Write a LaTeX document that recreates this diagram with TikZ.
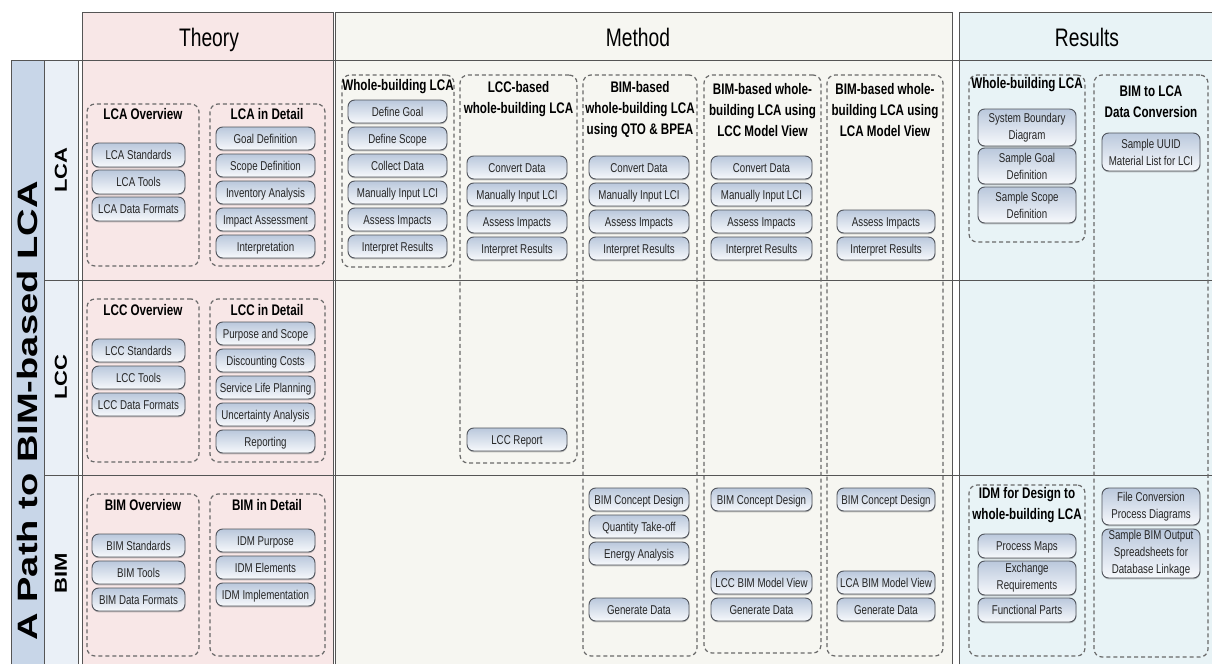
\documentclass[tikz,border=0pt]{standalone}
\usepackage{fontspec}
\setmainfont{Liberation Sans}[FakeStretch=0.76]
\newfontfamily\widefont{Liberation Sans}[FakeStretch=1.27]
\newfontfamily\widerfont{Liberation Sans}[FakeStretch=1.36]
\usetikzlibrary{shadows}

\definecolor{theorybg}{RGB}{248,231,231}
\definecolor{methodbg}{RGB}{246,246,241}
\definecolor{resultbg}{RGB}{232,243,246}
\definecolor{colA}{RGB}{200,214,232}
\definecolor{colB}{RGB}{234,240,247}
\definecolor{gridline}{RGB}{85,85,85}
\definecolor{groupline}{RGB}{105,105,105}
\definecolor{boxline}{RGB}{80,84,92}
\definecolor{boxtop}{RGB}{186,200,220}
\definecolor{boxmid}{RGB}{222,229,239}
\definecolor{boxbot}{RGB}{247,249,252}

\tikzset{
  region/.style={draw=gridline, line width=0.6pt},
  itembox/.style={draw=boxline, line width=0.7pt, rounded corners=5pt,
    top color=boxtop, middle color=boxmid, bottom color=boxbot,
    inner sep=0pt, align=center, text=black!85,
    font=\fontsize{9.6}{12.75}\selectfont,
    drop shadow={shadow xshift=0.2pt, shadow yshift=-1pt, opacity=0.45}},
  itemone/.style={itembox, text height=0.72em, text depth=0pt},
  groupbox/.style={draw=groupline, line width=0.9pt,
    dash pattern=on 3pt off 2.2pt, rounded corners=6pt, inner sep=0pt},
  grouptitle/.style={font=\bfseries\fontsize{11.5}{15.75}\selectfont,
    align=center, inner sep=0pt},
  colhead/.style={font=\fontsize{19}{22}\selectfont, anchor=base, inner sep=0pt},
  rowhead/.style={font=\widefont\bfseries\fontsize{13}{15}\selectfont,
    rotate=90, inner sep=0pt},
}

% item box: name, x1, y1, x2, y2, text (coordinates in pixel units)
\newcommand\bx[6]{\node[itemone, minimum width={(#4-#2)*0.75pt},
  minimum height={(#5-#3)*0.75pt}] (#1) at ({(#2+#4)/2},{(#3+#5)/2}) {#6};}
% item box with several lines of text
\newcommand\bxm[6]{\node[itembox, minimum width={(#4-#2)*0.75pt},
  minimum height={(#5-#3)*0.75pt}] (#1) at ({(#2+#4)/2},{(#3+#5)/2}) {#6};}
% dashed group frame: name, x1, y1, x2, y2
\newcommand\grp[5]{\node[groupbox, minimum width={(#4-#2)*0.75pt},
  minimum height={(#5-#3)*0.75pt}] (#1) at ({(#2+#4)/2},{(#3+#5)/2}) {};}

\begin{document}
\begin{tikzpicture}[x=0.75pt, y=-0.75pt]
\useasboundingbox (0,0) rectangle (1212,664);

% ---- column and row backgrounds
\fill[colA] (11,60) rectangle (44,664);
\fill[colB] (44,60) rectangle (78,664);
\fill[theorybg] (82,12) rectangle (333,664);
\fill[methodbg] (335,12) rectangle (952,664);
\fill[resultbg] (959,12) rectangle (1212,664);

\draw[region] (11,664) -- (11,60) -- (78,60) -- (78,664);
\draw[region] (44,60) -- (44,664);
\draw[region] (82,664) -- (82,12) -- (333,12) -- (333,664);
\draw[region] (335,664) -- (335,12) -- (952,12) -- (952,664);
\draw[region] (959,664) -- (959,12) -- (1212,12);
\draw[region] (11,60) -- (1212,60);
\draw[region] (44,280) -- (1212,280);
\draw[region] (44,475) -- (1212,475);

% ---- headings
\node[colhead] (hTheory) at (209,46) {Theory};
\node[colhead] (hMethod) at (638,46) {Method};
\node[colhead] (hResults) at (1087,46) {Results};

\node[rowhead, font=\widerfont\bfseries\fontsize{21}{24}\selectfont] (hPath) at (27,411) {A Path to BIM-based LCA};
\node[rowhead] (hLCA) at (61,170) {LCA};
\node[rowhead] (hLCC) at (61,377) {LCC};
\node[rowhead] (hBIM) at (61,573) {BIM};

% ---- Theory
\grp{gLcaOv}{87}{104}{199}{266}
\node[grouptitle] (tLcaOv) at (143,114) {LCA Overview};
\bx{a1}{92}{143}{185}{167}{LCA Standards}
\bx{a2}{92}{170}{185}{194}{LCA Tools}
\bx{a3}{92}{197}{185}{221}{LCA Data Formats}

\grp{gLcaDet}{210}{104}{325}{266}
\node[grouptitle] (tLcaDet) at (267,114) {LCA in Detail};
\bx{b1}{216}{127}{315}{150}{Goal Definition}
\bx{b2}{216}{154}{315}{177}{Scope Definition}
\bx{b3}{216}{181}{315}{204}{Inventory Analysis}
\bx{b4}{216}{208}{315}{231}{Impact Assessment}
\bx{b5}{216}{235}{315}{258}{Interpretation}

\grp{gLccOv}{87}{299}{199}{462}
\node[grouptitle] (tLccOv) at (143,310) {LCC Overview};
\bx{c1}{92}{339}{185}{362}{LCC Standards}
\bx{c2}{92}{366}{185}{389}{LCC Tools}
\bx{c3}{92}{393}{185}{416}{LCC Data Formats}

\grp{gLccDet}{210}{299}{325}{462}
\node[grouptitle] (tLccDet) at (267,310) {LCC in Detail};
\bx{d1}{216}{322}{315}{345}{Purpose and Scope}
\bx{d2}{216}{349}{315}{372}{Discounting Costs}
\bx{d3}{216}{376}{315}{399}{Service Life Planning}
\bx{d4}{216}{403}{315}{426}{Uncertainty Analysis}
\bx{d5}{216}{430}{315}{453}{Reporting}

\grp{gBimOv}{87}{494}{199}{656}
\node[grouptitle] (tBimOv) at (143,505) {BIM Overview};
\bx{e1}{92}{534}{185}{557}{BIM Standards}
\bx{e2}{92}{561}{185}{584}{BIM Tools}
\bx{e3}{92}{588}{185}{611}{BIM Data Formats}

\grp{gBimDet}{210}{494}{325}{656}
\node[grouptitle] (tBimDet) at (267,505) {BIM in Detail};
\bx{f1}{216}{529}{315}{552}{IDM Purpose}
\bx{f2}{216}{556}{315}{579}{IDM Elements}
\bx{f3}{216}{583}{315}{606}{IDM Implementation}

% ---- Method
\grp{gWb}{342}{75}{454}{267}
\node[grouptitle] (tWb) at (398,87) {Whole-building LCA};
\bx{g1}{348}{100}{447}{123}{Define Goal}
\bx{g2}{348}{127}{447}{150}{Define Scope}
\bx{g3}{348}{154}{447}{177}{Collect Data}
\bx{g4}{348}{181}{447}{204}{Manually Input LCI}
\bx{g5}{348}{208}{447}{231}{Assess Impacts}
\bx{g6}{348}{235}{447}{258}{Interpret Results}

\grp{gLccB}{460}{75}{577}{463}
\node[grouptitle] (tLccB) at (518.5,99.5) {LCC-based\\whole-building LCA};
\bx{h1}{467}{156}{567}{179}{Convert Data}
\bx{h2}{467}{183}{567}{206}{Manually Input LCI}
\bx{h3}{467}{210}{567}{233}{Assess Impacts}
\bx{h4}{467}{237}{567}{260}{Interpret Results}
\bx{h5}{467}{428}{567}{451}{LCC Report}

\grp{gQto}{583}{75}{697}{656}
\node[grouptitle] (tQto) at (640,110) {BIM-based\\whole-building LCA\\using QTO \& BPEA};
\bx{i1}{589}{156}{689}{179}{Convert Data}
\bx{i2}{589}{183}{689}{206}{Manually Input LCI}
\bx{i3}{589}{210}{689}{233}{Assess Impacts}
\bx{i4}{589}{237}{689}{260}{Interpret Results}
\bx{i5}{589}{488}{689}{511}{BIM Concept Design}
\bx{i6}{589}{515}{689}{538}{Quantity Take-off}
\bx{i7}{589}{542}{689}{565}{Energy Analysis}
\bx{i8}{589}{598}{689}{621}{Generate Data}

\grp{gLccMv}{704}{75}{821}{653}
\node[grouptitle] (tLccMv) at (762.5,110) {BIM-based whole-\\building LCA using\\LCC Model View};
\bx{j1}{711}{156}{812}{179}{Convert Data}
\bx{j2}{711}{183}{812}{206}{Manually Input LCI}
\bx{j3}{711}{210}{812}{233}{Assess Impacts}
\bx{j4}{711}{237}{812}{260}{Interpret Results}
\bx{j5}{711}{488}{812}{511}{BIM Concept Design}
\bx{j6}{711}{571}{812}{594}{LCC BIM Model View}
\bx{j7}{711}{598}{812}{621}{Generate Data}

\grp{gLcaMv}{827}{75}{943}{656}
\node[grouptitle] (tLcaMv) at (885,110) {BIM-based whole-\\building LCA using\\LCA Model View};
\bx{k1}{837}{210}{935}{233}{Assess Impacts}
\bx{k2}{837}{237}{935}{260}{Interpret Results}
\bx{k3}{837}{488}{935}{511}{BIM Concept Design}
\bx{k4}{837}{571}{935}{594}{LCA BIM Model View}
\bx{k5}{837}{598}{935}{621}{Generate Data}

% ---- Results
\grp{gRwb}{969}{75}{1085}{242}
\node[grouptitle] (tRwb) at (1027,85) {Whole-building LCA};
\bxm{m1}{978}{109}{1076}{146}{System Boundary\\Diagram}
\bxm{m2}{978}{148}{1076}{184}{Sample Goal\\Definition}
\bxm{m3}{978}{187}{1076}{223}{Sample Scope\\Definition}

\grp{gConv}{1094}{75}{1208}{657}
\node[grouptitle] (tConv) at (1151,101.5) {BIM to LCA\\Data Conversion};
\bxm{n1}{1102}{133}{1200}{171}{Sample UUID\\Material List for LCI}
\bxm{n2}{1102}{488}{1200}{525}{File Conversion\\Process Diagrams}
\bxm{n3}{1102}{529}{1200}{578}{Sample BIM Output\\Spreadsheets for\\Database Linkage}

\grp{gIdm}{969}{485}{1085}{656}
\node[grouptitle] (tIdm) at (1027,505.5) {IDM for Design to\\whole-building LCA};
\bx{p1}{978}{534}{1076}{558}{Process Maps}
\bxm{p2}{978}{561}{1076}{595}{Exchange\\Requirements}
\bx{p3}{978}{598}{1076}{622}{Functional Parts}

\end{tikzpicture}
\end{document}
